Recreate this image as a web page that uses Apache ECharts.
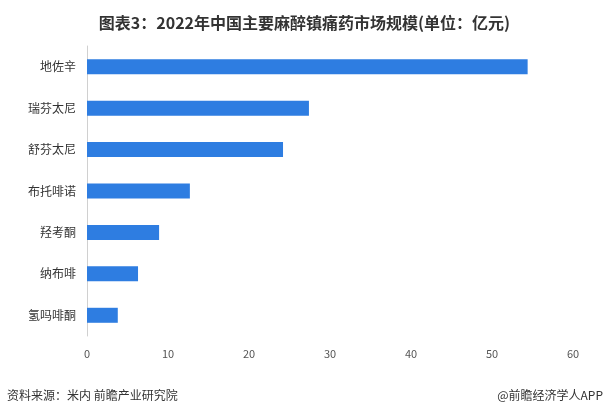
<!DOCTYPE html>
<html>
<head>
<meta charset="utf-8">
<script src="https://cdn.jsdelivr.net/npm/echarts@6/dist/echarts.min.js"></script>
<style>html,body{margin:0;padding:0;background:#fff;}#c{width:609px;height:419px;}</style>
</head>
<body>
<div id="c"></div>
<script>
var categories = ['地佐辛', '瑞芬太尼', '舒芬太尼', '布托啡诺', '羟考酮', '纳布啡', '氢吗啡酮'];
var values = [54.4, 27.4, 24.2, 12.7, 8.9, 6.3, 3.8];
var xTicks = [0, 10, 20, 30, 40, 50, 60];
var titleText = '图表3：2022年中国主要麻醉镇痛药市场规模(单位：亿元)';
var sourceText = '资料来源：米内 前瞻产业研究院';
var creditText = '@前瞻经济学人APP';

var chart = echarts.init(document.getElementById('c'), null, {renderer: 'canvas'});
chart.setOption({
  backgroundColor: '#fff',
  animation: false,
  title: {
    text: titleText,
    left: 'center',
    top: 10,
    textStyle: {fontFamily: 'Noto Sans CJK SC', fontSize: 16, fontWeight: 'bold', color: '#333'}
  },
  graphic: [
    {type: 'text', left: 7, top: 389, style: {text: sourceText, font: '12px "Noto Sans CJK SC"', fill: '#333'}},
    {type: 'text', right: 6, top: 389, style: {text: creditText, font: '12px "Noto Sans CJK SC"', fill: '#333'}}
  ],
  grid: {left: 87, right: 36, top: 46, bottom: 83, containLabel: false},
  xAxis: {
    type: 'value',
    min: xTicks[0],
    max: xTicks[xTicks.length - 1],
    interval: 10,
    axisLine: {show: false},
    axisTick: {show: false},
    splitLine: {show: false},
    axisLabel: {margin: 12, color: '#555', fontSize: 11, fontFamily: 'Noto Sans CJK SC'}
  },
  yAxis: {
    type: 'category',
    data: categories,
    inverse: true,
    axisLine: {show: true, lineStyle: {color: '#d0d0d0', width: 1}},
    axisTick: {show: false},
    axisLabel: {margin: 11, color: '#333', fontSize: 12, fontFamily: 'Noto Sans CJK SC'}
  },
  series: [{
    type: 'bar',
    data: values,
    barWidth: 15,
    itemStyle: {color: '#2E7DE1'}
  }]
});
</script>
</body>
</html>
